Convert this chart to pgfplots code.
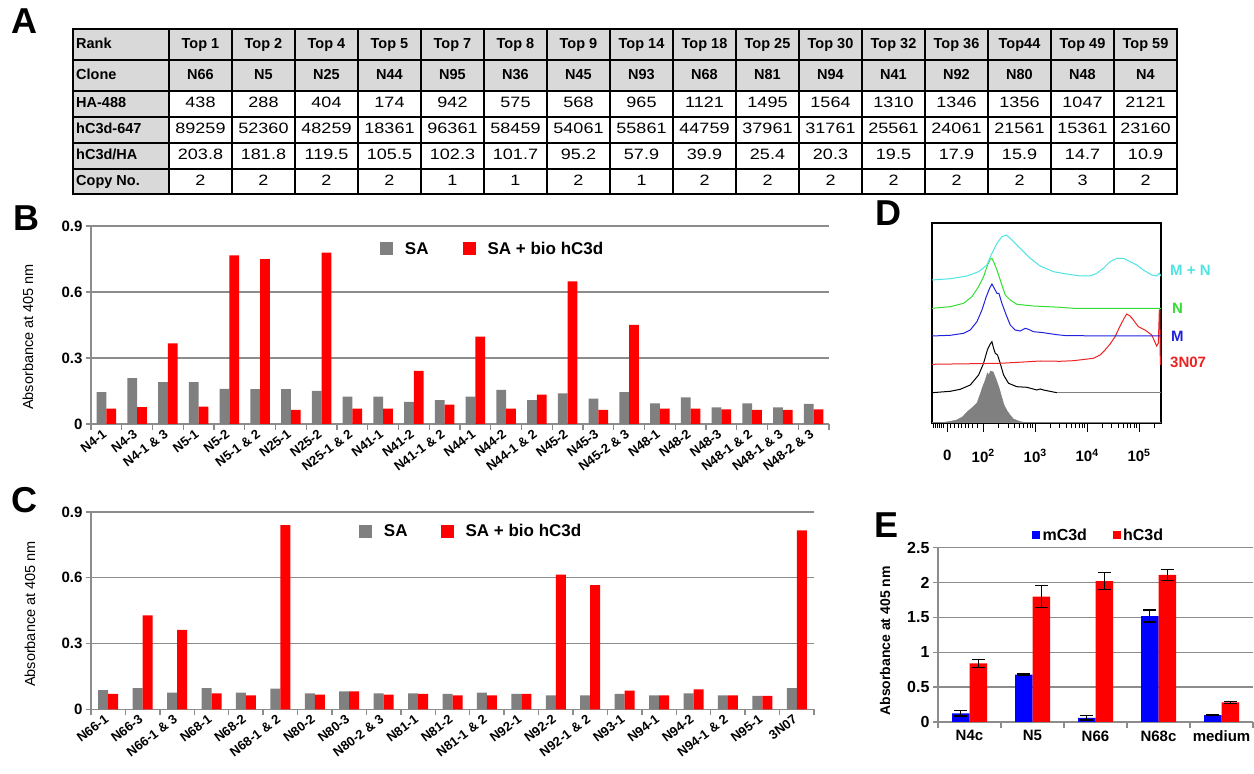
\documentclass[border=0pt]{standalone}
\usepackage{pgfplots}
\pgfplotsset{compat=1.18}
\usepackage{fontspec}
\setmainfont{Liberation Sans}
\newfontfamily\widefont[FakeStretch=1.2]{Liberation Sans}
\definecolor{barred}{HTML}{FF0000}
\definecolor{bargray}{HTML}{808080}
\definecolor{gridgray}{HTML}{8C8C8C}
\definecolor{cellgray}{HTML}{D9D9D9}
\definecolor{barblue}{HTML}{0000FF}
\definecolor{hcyan}{HTML}{4FE3E3}
\definecolor{hgreen}{HTML}{33DD33}
\definecolor{hblue}{HTML}{2222DD}
\definecolor{hred}{HTML}{EE2222}
\newcommand\fs[1]{\fontsize{#1}{#1}\selectfont}
\pgfplotsset{
  elisa/.style={
    anchor=south west, scale only axis, enlargelimits=false,
    ymin=0, ymax=0.9, ytick={0,0.3,0.6,0.9}, yticklabels={0,0.3,0.6,0.9},
    axis lines=left, axis line style={-, draw=gridgray, line width=1.3pt},
    tick align=outside, major tick length=5pt, minor tick length=6pt,
    tick style={gridgray, line width=1.3pt},
    major x tick style={draw=none},
    ymajorgrids, grid style={gridgray, line width=1.3pt},
    /pgf/number format/assume math mode=true,
    yticklabel style={font=\fs{15}\bfseries},
    xticklabel style={font=\fs{13}\bfseries, rotate=37, anchor=east, yshift=-2pt},
    ylabel={Absorbance at 405 nm},
    ybar=0pt,
    legend columns=2,
    legend image code/.code={\fill[#1] (0pt,-6.5pt) rectangle (13pt,6.5pt);},
  }
}
\begin{document}
\begin{tikzpicture}[x=1pt,y=1pt]
\useasboundingbox (0,0) rectangle (1254,774);
% panel letters
\node[font=\fs{36}\bfseries] at (24,753) {A};
\node[font=\fs{36}\bfseries] at (26,556) {B};
\node[font=\fs{36}\bfseries] at (24,274) {C};
\node[font=\fs{36}\bfseries] at (888,561) {D};
\node[font=\fs{36}\bfseries] at (886,249) {E};
% ---------------- table A
\fill[cellgray] (73,745) rectangle (1177,683);
\fill[cellgray] (73,683) rectangle (169,580);
\foreach \y in {745,714,683,657,631,605,580} \draw[line width=2pt] (72,\y) -- (1178,\y);
\draw[line width=2pt] (73,745) -- (73,580);
\foreach \k in {0,...,16} \draw[line width=2pt] ({169+63*\k},745) -- ({169+63*\k},580);
\begin{scope}[every node/.style={anchor=west, inner sep=0pt, font=\fs{14.5}\bfseries, text height=0.72em, text depth=0pt}]
\node at (76,729.5) {Rank};
\node at (76,698.5) {Clone};
\node at (76,670) {HA-488};
\node at (76,644) {hC3d-647};
\node at (76,618) {hC3d/HA};
\node at (76,592.5) {Copy No.};
\end{scope}
\foreach \r/\c/\h/\d/\q/\n [count=\i from 0] in {
 Top 1/N66/438/89259/203.8/2,
 Top 2/N5/288/52360/181.8/2,
 Top 4/N25/404/48259/119.5/2,
 Top 5/N44/174/18361/105.5/2,
 Top 7/N95/942/96361/102.3/1,
 Top 8/N36/575/58459/101.7/1,
 Top 9/N45/568/54061/95.2/2,
 Top 14/N93/965/55861/57.9/1,
 Top 18/N68/1121/44759/39.9/2,
 Top 25/N81/1495/37961/25.4/2,
 Top 30/N94/1564/31761/20.3/2,
 Top 32/N41/1310/25561/19.5/2,
 Top 36/N92/1346/24061/17.9/2,
 Top44/N80/1356/21561/15.9/2,
 Top 49/N48/1047/15361/14.7/3,
 Top 59/N4/2121/23160/10.9/2}{
  \begin{scope}[every node/.style={inner sep=0pt, text height=0.72em, text depth=0pt}]
  \node[font=\fs{14.5}\bfseries] at ({200.5+63*\i},729.5) {\r};
  \node[font=\fs{14.5}\bfseries] at ({200.5+63*\i},698.5) {\c};
  \node[font=\widefont\fs{15}] at ({200.5+63*\i},670) {\h};
  \node[font=\widefont\fs{15}] at ({200.5+63*\i},644) {\d};
  \node[font=\widefont\fs{15}] at ({200.5+63*\i},618) {\q};
  \node[font=\widefont\fs{15}] at ({200.5+63*\i},592.5) {\n};
  \end{scope}
}
% ---------------- panel B
\begin{axis}[elisa,
  at={(91pt,350pt)}, width=738pt, height=198pt,
  xmin=-0.5, xmax=23.5, xtick={0,...,23},
  xticklabels={N4-1,N4-3,N4-1 \& 3,N5-1,N5-2,N5-1 \& 2,N25-1,N25-2,N25-1 \& 2,N41-1,N41-2,N41-1 \& 2,N44-1,N44-2,N44-1 \& 2,N45-2,N45-3,N45-2 \& 3,N48-1,N48-2,N48-3,N48-1 \& 2,N48-1 \& 3,N48-2 \& 3},
  minor xtick={-0.5,0.5,...,23.5},
  ylabel style={font=\fs{14.5}, at={(axis description cs:-0.0854,0.44)}, anchor=center},
  bar width=9.7pt,
  legend style={at={(axis description cs:0.392,0.884)}, anchor=west, draw=none, fill=none,
    font=\fs{17}\bfseries, inner sep=0pt, nodes={inner sep=0.5pt},
    /tikz/every odd column/.append style={column sep=11pt},
    /tikz/every even column/.append style={column sep=34pt}},
]
\addplot[fill=bargray, draw=none] coordinates {(0,0.145)(1,0.209)(2,0.19)(3,0.19)(4,0.16)(5,0.158)(6,0.158)(7,0.151)(8,0.124)(9,0.124)(10,0.1)(11,0.109)(12,0.124)(13,0.155)(14,0.109)(15,0.139)(16,0.115)(17,0.145)(18,0.094)(19,0.121)(20,0.076)(21,0.094)(22,0.076)(23,0.091)};
\addplot[fill=barred, draw=none] coordinates {(0,0.07)(1,0.077)(2,0.367)(3,0.079)(4,0.767)(5,0.749)(6,0.064)(7,0.779)(8,0.07)(9,0.07)(10,0.242)(11,0.088)(12,0.397)(13,0.07)(14,0.133)(15,0.648)(16,0.064)(17,0.451)(18,0.07)(19,0.07)(20,0.067)(21,0.064)(22,0.064)(23,0.067)};
\legend{SA, SA + bio hC3d}
\end{axis}
% ---------------- panel C
\begin{axis}[elisa,
  at={(91pt,64.7pt)}, width=723pt, height=197.3pt,
  xmin=-0.5, xmax=20.5, xtick={0,...,20},
  xticklabels={N66-1,N66-3,N66-1 \& 3,N68-1,N68-2,N68-1 \& 2,N80-2,N80-3,N80-2 \& 3,N81-1,N81-2,N81-1 \& 2,N92-1,N92-2,N92-1 \& 2,N93-1,N94-1,N94-2,N94-1 \& 2,N95-1,3N07},
  minor xtick={-0.5,0.5,...,20.5},
  ylabel style={font=\fs{14.5}, at={(axis description cs:-0.0844,0.483)}, anchor=center},
  bar width=10pt,
  legend style={at={(axis description cs:0.371,0.901)}, anchor=west, draw=none, fill=none,
    font=\fs{17}\bfseries, inner sep=0pt, nodes={inner sep=0.5pt},
    /tikz/every odd column/.append style={column sep=11pt},
    /tikz/every even column/.append style={column sep=33pt}},
]
\addplot[fill=bargray, draw=none] coordinates {(0,0.088)(1,0.097)(2,0.076)(3,0.097)(4,0.076)(5,0.094)(6,0.073)(7,0.082)(8,0.073)(9,0.073)(10,0.07)(11,0.076)(12,0.07)(13,0.064)(14,0.064)(15,0.07)(16,0.064)(17,0.073)(18,0.064)(19,0.061)(20,0.097)};
\addplot[fill=barred, draw=none] coordinates {(0,0.07)(1,0.429)(2,0.362)(3,0.073)(4,0.064)(5,0.84)(6,0.067)(7,0.082)(8,0.067)(9,0.07)(10,0.064)(11,0.064)(12,0.07)(13,0.614)(14,0.566)(15,0.085)(16,0.064)(17,0.091)(18,0.064)(19,0.061)(20,0.816)};
\legend{SA, SA + bio hC3d}
\end{axis}
% ---------------- panel D
\begin{axis}[
  at={(932pt,351pt)}, anchor=south west, scale only axis, width=229pt, height=200pt,
  xmin=1.013, xmax=5.423, ymin=0, ymax=200, enlargelimits=false,
  axis line style={black, line width=1.2pt},
  ytick=\empty,
  xtick={1.308,2,3,4,5},
  xticklabels={0,10\textsuperscript{2},10\textsuperscript{3},10\textsuperscript{4},10\textsuperscript{5}},
  minor xtick={1.04,1.08,1.12,1.16,1.20,1.24,1.37,1.45,1.52,1.58,1.65,1.72,1.80,1.88,2.301,2.477,2.602,2.699,2.778,2.845,2.903,2.954,3.301,3.477,3.602,3.699,3.778,3.845,3.903,3.954,4.301,4.477,4.602,4.699,4.778,4.845,4.903,4.954,5.301},
  xtick pos=left, tick align=outside, major tick length=9pt, minor tick length=5pt,
  tick style={black, line width=1pt},
  /pgf/number format/assume math mode=true,
  xticklabel style={font=\fs{15}\bfseries, yshift=-14pt},
]
\addplot[fill=bargray, draw=bargray, line width=0.5pt] coordinates {(1.17,0)(1.35,1.5)(1.49,3)(1.60,6)(1.69,11)(1.80,16)(1.88,20)(1.95,30)(1.98,35)(2.04,43)(2.08,50)(2.11,48)(2.14,52)(2.19,51)(2.23,46)(2.30,36)(2.36,25)(2.40,18)(2.46,12)(2.53,7)(2.58,4)(2.70,1.5)(2.84,0)} \closedcycle;
\addplot[gray, line width=0.6pt] coordinates {(1.013,0.5)(5.423,0.5)};
\addplot[black, line width=1pt] coordinates {(1.013,30.3)(1.365,31.7)(1.558,33.7)(1.75,38)(1.910,48)(2.006,59.7)(2.083,73.7)(2.135,79)(2.167,81.3)(2.199,74.7)(2.231,69.7)(2.275,68)(2.327,59.7)(2.391,48)(2.487,39.7)(2.647,36.3)(2.840,35.7)(3.032,33)(3.096,34)(3.160,33)(3.417,30.3)};
\addplot[gray, line width=0.7pt] coordinates {(3.417,30.3)(5.423,30.3)};
\addplot[hred, line width=1pt] coordinates {(1.013,58.7)(2.327,59.7)(2.776,61)(3.096,62)(3.481,61.7)(3.737,62.3)(4.122,64.7)(4.250,68)(4.346,73)(4.442,79)(4.538,86.3)(4.635,97)(4.712,104.7)(4.763,109)(4.827,107)(4.891,103)(4.987,96.3)(5.115,93)(5.244,88)(5.340,77)(5.372,80)(5.391,113)(5.400,113)(5.410,58)};
\addplot[hblue, line width=1pt] coordinates {(1.013,87)(1.365,87.7)(1.622,89.7)(1.75,93)(1.878,101.3)(1.975,113)(2.058,126.3)(2.122,134.7)(2.167,139)(2.212,134.7)(2.263,129.7)(2.301,129.7)(2.359,119.7)(2.442,108)(2.519,98)(2.615,93)(2.712,92)(2.808,94.7)(2.872,93.7)(2.968,91.3)(3.160,90.3)(3.417,88.3)(3.609,87.3)(5.423,87)};
\addplot[hgreen, line width=1pt] coordinates {(1.013,114.7)(1.365,116.3)(1.622,119.7)(1.782,126.3)(1.910,136.3)(2.006,146.3)(2.083,158)(2.135,163.7)(2.167,164.7)(2.199,161.3)(2.263,153)(2.327,143)(2.423,128)(2.519,123)(2.647,118.7)(2.968,117)(3.481,115.7)(3.737,114.7)(5.423,114.7)};
\addplot[hcyan, line width=1pt] coordinates {(1.013,143)(1.365,144.3)(1.686,147)(1.910,151.3)(2.071,158)(2.167,169.7)(2.263,179.7)(2.359,186.3)(2.442,188)(2.519,184.7)(2.615,179.7)(2.744,173)(2.904,164.7)(3.096,157)(3.353,151.3)(3.609,149)(3.865,147)(4.058,147)(4.186,149.7)(4.314,154.7)(4.442,161.3)(4.571,164.7)(4.699,164.7)(4.827,161.3)(4.955,158)(5.083,153)(5.244,148)(5.340,147)(5.391,149.7)(5.423,147)};
\end{axis}
\node[anchor=west, inner sep=0pt, text=hcyan, font=\fs{15}\bfseries] at (1170,504) {M + N};
\node[anchor=west, inner sep=0pt, text=hgreen, font=\fs{15}\bfseries] at (1172,466) {N};
\node[anchor=west, inner sep=0pt, text=hblue, font=\fs{15}\bfseries] at (1171,438) {M};
\node[anchor=west, inner sep=0pt, text=hred, font=\fs{15}\bfseries] at (1170,412) {3N07};
% ---------------- panel E
\begin{axis}[
  at={(938pt,52pt)}, anchor=south west, scale only axis, width=315pt, height=174.3pt,
  enlargelimits=false,
  xmin=-0.5, xmax=4.5, ymin=0, ymax=2.5,
  ytick={0,0.5,1,1.5,2,2.5}, yticklabels={0,0.5,1,1.5,2,2.5},
  xtick={0,...,4}, xticklabels={N4c,N5,N66,N68c,medium},
  minor xtick={-0.5,0.5,...,4.5},
  axis lines=left, axis line style={-, draw=gridgray, line width=1.3pt},
  tick align=outside, major tick length=5pt, minor tick length=6pt,
  tick style={gridgray, line width=1.3pt},
  major x tick style={draw=none},
  ymajorgrids, grid style={gridgray, line width=1.3pt},
  /pgf/number format/assume math mode=true,
  yticklabel style={font=\fs{16}\bfseries},
  xticklabel style={font=\fs{15}\bfseries},
  ylabel={Absorbance at 405 nm},
  ylabel style={font=\fs{14}\bfseries, at={(axis description cs:-0.168,0.465)}, anchor=center},
  ybar=0pt, bar width=17.5pt,
  legend columns=2,
  legend image code/.code={\fill[#1] (0pt,-4pt) rectangle (8pt,4pt);},
  legend style={at={(axis description cs:0.298,1.073)}, anchor=west, draw=none, fill=none,
    font=\fs{16}\bfseries, inner sep=0pt, nodes={inner sep=0.5pt},
    /tikz/every odd column/.append style={column sep=2pt},
    /tikz/every even column/.append style={column sep=25pt}},
]
\addplot[fill=barblue, draw=none, error bars/.cd, y dir=both, y explicit,
  error bar style={black, line width=1.3pt}, error mark options={black, line width=1.3pt, mark size=6.5pt, rotate=90}]
  coordinates {(0,0.125) +- (0,0.04) (1,0.679) +- (0,0.01) (2,0.06) +- (0,0.03) (3,1.52) +- (0,0.086) (4,0.10) +- (0,0.01)};
\addplot[fill=barred, draw=none, error bars/.cd, y dir=both, y explicit,
  error bar style={black, line width=1.3pt}, error mark options={black, line width=1.3pt, mark size=6.5pt, rotate=90}]
  coordinates {(0,0.842) +- (0,0.057) (1,1.80) +- (0,0.153) (2,2.02) +- (0,0.124) (3,2.11) +- (0,0.081) (4,0.283) +- (0,0.015)};
\legend{mC3d, hC3d}
\end{axis}
\end{tikzpicture}
\end{document}
